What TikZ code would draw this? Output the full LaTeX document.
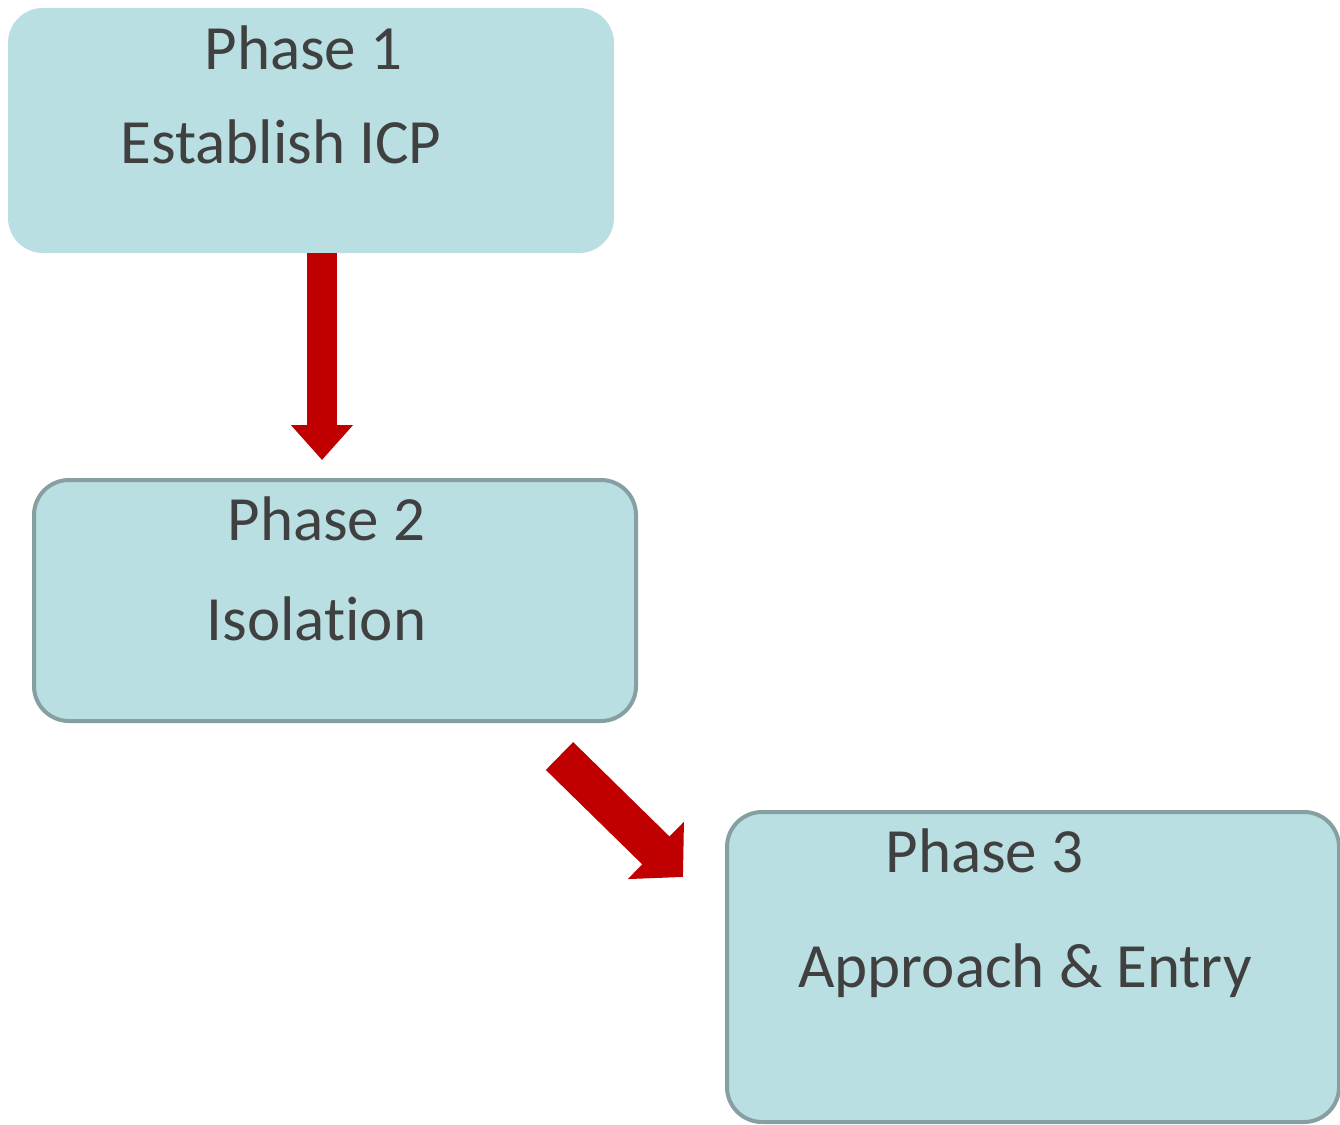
\documentclass[tikz,border=0pt]{standalone}
\usepackage{fontspec}
\setmainfont{Carlito}[Ligatures={NoCommon}]
\usetikzlibrary{arrows.meta}
\definecolor{boxfill}{HTML}{B9DFE2}
\definecolor{boxline}{HTML}{86A0A2}
\definecolor{arrowred}{HTML}{C00000}
\definecolor{txt}{HTML}{404040}
\begin{document}
\begin{tikzpicture}[x=1pt,y=1pt,
  phasebox/.style={rectangle, rounded corners=35pt, fill=boxfill, inner sep=0pt},
  bordered/.style={draw=boxline, line width=4pt},
  label/.style={anchor=base, inner sep=0pt, text=txt, font=\fontsize{63}{75}\selectfont},
  blockarrow/.style={draw=arrowred, line cap=butt}
]
\useasboundingbox (0,0) rectangle (1340,-1124);
% boxes
\node[phasebox, minimum width=606pt, minimum height=245pt] (b1) at (311,-130.5) {};
\node[phasebox, bordered, minimum width=602pt, minimum height=241pt] (b2) at (335,-600.5) {};
\node[phasebox, bordered, minimum width=612pt, minimum height=310pt] (b3) at (1033,-967) {};
% texts
\node[label] (t1a) at (303.5,-70) {Phase 1};
\node[label] (t1b) at (281,-163) {Establish ICP};
\node[label] (t2a) at (326.5,-540) {Phase 2};
\node[label] (t2b) at (316.5,-640) {Isolation};
\node[label] (t3a) at (984.5,-872) {Phase 3};
\node[label] (t3b) at (1025,-987) {Approach \& Entry};
% arrows
\coordinate (a1e) at (322,-460);
\draw[blockarrow, line width=30pt, -{Triangle[width=60pt,length=35pt]}] (b1.south -| a1e) -- (a1e);
\coordinate (a2s) at (559.5,-756);
\coordinate (a2e) at (683,-877);
\draw[blockarrow, line width=39pt, -{Triangle[width=78pt,length=38pt]}] (a2s) -- (a2e);
\end{tikzpicture}
\end{document}
